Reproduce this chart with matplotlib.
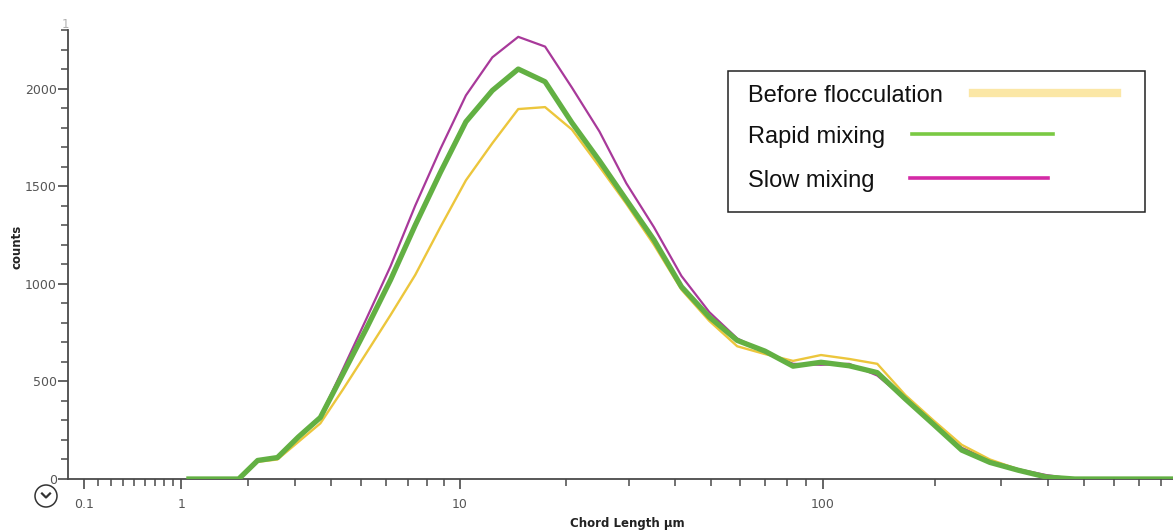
import numpy as np
import matplotlib
matplotlib.use("Agg")
import matplotlib.pyplot as plt
from matplotlib.lines import Line2D
from matplotlib.patches import Rectangle, Circle
from matplotlib.ticker import FixedLocator, NullFormatter

# chord length channels (um) and counts per channel
chord_um = [1.095, 1.30, 1.55, 1.84, 2.19, 2.60, 3.09, 3.68, 4.38, 5.20,
            6.19, 7.36, 8.75, 10.4, 12.4, 14.7, 17.5, 20.8, 24.8, 29.4,
            35.0, 41.6, 49.5, 58.9, 70.0, 83.3, 99.0, 117.8, 140.1, 166.5,
            198, 235.5, 280, 333, 396, 471, 560, 666, 792, 942]

before = [0, 0, 0, 0, 88, 100, 190, 285, 460, 645,
          840, 1045, 1290, 1530, 1720, 1895, 1905, 1790, 1600, 1410,
          1200, 970, 810, 680, 640, 605, 635, 615, 590, 430,
          300, 175, 100, 50, 15, 0, 0, 0, 0, 0]

rapid = [0, 0, 0, 0, 95, 110, 215, 315, 540, 770,
         1020, 1300, 1570, 1830, 1990, 2100, 2035, 1825, 1630, 1430,
         1225, 985, 830, 710, 655, 578, 598, 580, 545, 410,
         280, 148, 85, 45, 10, 0, 0, 0, 0, 0]

slow = [0, 0, 0, 0, 95, 110, 220, 320, 565, 820,
        1090, 1400, 1690, 1965, 2160, 2265, 2215, 2005, 1780, 1515,
        1290, 1040, 855, 720, 650, 590, 585, 590, 530, 410,
        280, 160, 95, 50, 20, 0, 0, 0, 0, 0]

series_names = ["Before flocculation", "Rapid mixing", "Slow mixing"]

major_x = [0.1, 1, 10, 100]
minor_x = ([k / 10 for k in range(2, 10)] + list(range(2, 10))
           + list(range(20, 100, 10)) + list(range(200, 1000, 100)))
x_labels = ["0.1", "1", "10", "100"]

W, H = 1173, 531
fig = plt.figure(figsize=(W / 100, H / 100), dpi=100)
ax = fig.add_axes([68 / W, 1 - 479 / H, 1 - 68 / W, 449 / H])


def fwd(x):
    return np.log10(np.clip(np.asarray(x, dtype=float) + 1, 1e-12, None))


def inv(y):
    return 10 ** np.asarray(y, dtype=float) - 1


ax.set_xscale("function", functions=(fwd, inv))
ax.set_xlim(0, 860)
ax.set_ylim(0, 2300)

ax.plot(chord_um, slow, color="#a8399a", lw=1.6, zorder=2)
ax.plot(chord_um, before, color="#ecc63c", lw=1.7, zorder=3)
ax.plot(chord_um, rapid, color="#62b043", lw=3.8, zorder=4,
        solid_joinstyle="round")

axis_col = "#4a4a4a"
for side in ("top", "right"):
    ax.spines[side].set_visible(False)
for side in ("left", "bottom"):
    ax.spines[side].set_color(axis_col)
    ax.spines[side].set_linewidth(1.3)

ax.xaxis.set_major_locator(FixedLocator(major_x))
ax.xaxis.set_minor_locator(FixedLocator(minor_x))
ax.set_xticklabels(x_labels)
ax.xaxis.set_minor_formatter(NullFormatter())
ax.yaxis.set_major_locator(FixedLocator([0, 500, 1000, 1500, 2000]))
ax.yaxis.set_minor_locator(FixedLocator(list(range(100, 2400, 100))))
ax.tick_params(axis="both", which="major", length=7, width=1.2,
               color=axis_col, labelcolor="#555555", labelsize=9)
ax.tick_params(axis="both", which="minor", length=5, width=1.1, color=axis_col)
ax.tick_params(axis="x", which="major", pad=7)
ax.tick_params(axis="y", which="major", pad=1)

ax.set_xlabel("Chord Length µm", fontsize=8.5, fontweight="bold", color="#222222")
ax.xaxis.set_label_coords((627 - 68) / (W - 68), -0.085)
ax.set_ylabel("counts", fontsize=8.5, fontweight="bold", color="#222222")
ax.yaxis.set_label_coords(-0.0405, (479 - 247) / 449)

# stray top label of the count axis
fig.text(65 / W, 1 - 25 / H, "1", color="#b0b0b0", fontsize=8.5,
         ha="center", va="center")

# legend box
fig.add_artist(Rectangle((728 / W, 1 - 212 / H), (1145 - 728) / W, 141 / H,
                         transform=fig.transFigure, fill=False,
                         edgecolor="#222222", lw=1.1))
legend_rows = [
    (series_names[0], 96, 973, 1117, "#fbe7a6", 6.0),
    (series_names[1], 137, 912, 1053, "#7ac943", 2.6),
    (series_names[2], 181, 910, 1048, "#d42aa6", 2.6),
]
for label, y, x0, x1, col, lw in legend_rows:
    fig.text(748 / W, 1 - y / H, label, fontsize=17, family="Liberation Sans",
             color="#111111", ha="left", va="center")
    fig.add_artist(Line2D([x0 / W, x1 / W], [1 - (y - 3) / H, 1 - (y - 3) / H],
                          transform=fig.transFigure, color=col, lw=lw))

# collapse button below the axis origin
btn = fig.dpi_scale_trans
fig.add_artist(Circle((0.46, 0.35), 0.11, transform=btn, fill=False,
                      edgecolor="#333333", lw=1.1))
fig.add_artist(Line2D([0.42, 0.46, 0.50], [0.375, 0.335, 0.375], transform=btn,
                      color="#333333", lw=1.6))

fig.savefig("out.png", dpi=100)
